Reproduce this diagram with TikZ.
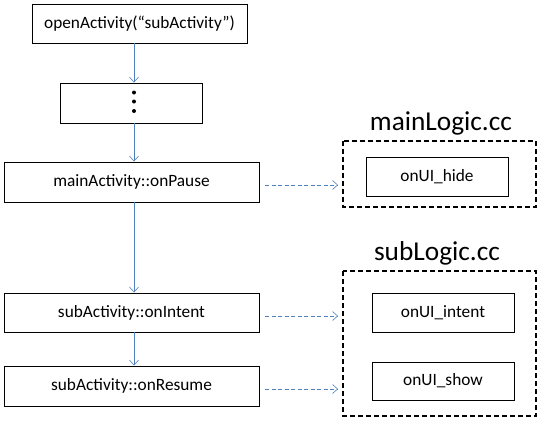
\documentclass[tikz,border=0pt]{standalone}
\usepackage{fontspec}
\setmainfont{Carlito}
\usetikzlibrary{arrows.meta}
\definecolor{arrowblue}{RGB}{79,129,189}
\tikzset{
  box/.style={draw=black, line width=0.9pt, minimum height=0pt, inner sep=0pt, font=\fontsize{17.3}{20}\selectfont},
  flow/.style={draw=arrowblue, line width=0.7pt, -{Straight Barb[length=5pt,width=9pt,line width=0.6pt]}},
  dflow/.style={flow, dash pattern=on 4pt off 2.5pt},
  group/.style={draw=black, line width=1.6pt, dash pattern=on 5pt off 3pt},
  title/.style={font=\fontsize{27.3}{30}\selectfont, inner sep=0pt},
  dotc/.style={fill=black, draw=none}
}
\begin{document}
\begin{tikzpicture}[x=1pt,y=-1pt]
\useasboundingbox (0,0) rectangle (542,423);
% left column boxes
\node[box, minimum width=215pt, minimum height=39pt] (open) at (139.5,23.5) {openActivity(“subActivity”)};
\node[box, minimum width=142pt, minimum height=40pt] (dots) at (131,103) {};
\node[box, minimum width=255pt, minimum height=40pt] (pause) at (131.5,182) {mainActivity::onPause};
\node[box, minimum width=255pt, minimum height=39pt] (intent) at (131.5,312.5) {subActivity::onIntent};
\node[box, minimum width=255pt, minimum height=40pt] (resume) at (131.5,386) {subActivity::onResume};
\fill[dotc] (134,92.5) circle (2pt) (134,101.5) circle (2pt) (134,111) circle (2pt);
% right groups
\node[title] (mtitle) at (441,123) {mainLogic.cc};
\draw[group] (343,141) rectangle (536,207);
\node[box, minimum width=142pt, minimum height=39pt] (hide) at (437,176.5) {onUI\_hide};
\node[title] (stitle) at (437,253) {subLogic.cc};
\draw[group] (343,271) rectangle (536,416);
\node[box, minimum width=142pt, minimum height=39pt] (uiintent) at (443,312.5) {onUI\_intent};
\node[box, minimum width=142pt, minimum height=38pt] (uishow) at (443,381) {onUI\_show};
\coordinate (hideIn) at (338,185);
\coordinate (intentIn) at (338,316);
\coordinate (showIn) at (338,389);
% connectors
\draw[flow] (open.south -| 134,0) -- (dots.north -| 134,0);
\draw[flow] (dots.south -| 134,0) -- (pause.north -| 134,0);
\draw[flow] (pause.south -| 134,0) -- (intent.north -| 134,0);
\draw[flow] (intent.south -| 134,0) -- (resume.north -| 134,0);
\draw[dflow] ([xshift=6pt]pause.east |- hideIn) -- (hideIn);
\draw[dflow] ([xshift=6pt]intent.east |- intentIn) -- (intentIn);
\draw[dflow] ([xshift=6pt]resume.east |- showIn) -- (showIn);
\end{tikzpicture}
\end{document}
